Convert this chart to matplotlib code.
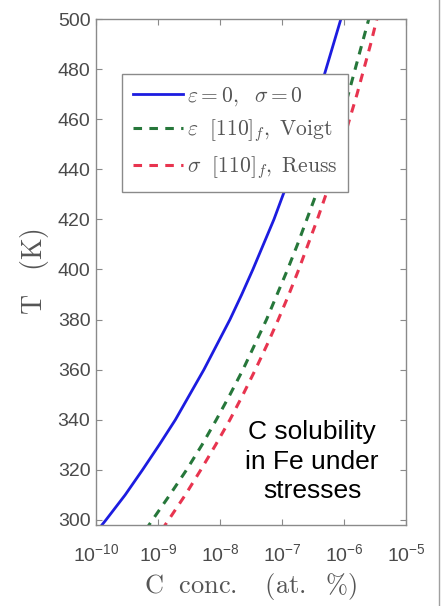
import matplotlib
matplotlib.use("Agg")
import matplotlib.pyplot as plt
from matplotlib.lines import Line2D
from matplotlib.ticker import LogLocator, LogFormatterMathtext, FixedLocator
import numpy as np

# Data (T in K, log10 of C concentration in at.%)
temperature = [296, 300, 310, 320, 330, 340, 350, 360, 370, 380, 390,
               400, 410, 420, 430, 440, 450, 460, 470, 480, 490, 500]
log_c_unstressed = [-9.97, -9.84, -9.53, -9.25, -8.98, -8.72, -8.49, -8.26, -8.05, -7.84, -7.65,
                    -7.47, -7.30, -7.13, -6.98, -6.82, -6.68, -6.54, -6.41, -6.29, -6.17, -6.05]
log_c_voigt = [-9.20, -9.09, -8.81, -8.54, -8.29, -8.06, -7.84, -7.63, -7.44, -7.25, -7.08,
               -6.91, -6.75, -6.60, -6.45, -6.31, -6.18, -6.05, -5.93, -5.82, -5.71, -5.60]
log_c_reuss = [-8.94, -8.83, -8.56, -8.31, -8.07, -7.84, -7.63, -7.43, -7.24, -7.06, -6.89,
               -6.73, -6.58, -6.43, -6.29, -6.16, -6.03, -5.91, -5.79, -5.68, -5.57, -5.47]

labels = [r"$\varepsilon = 0,\ \ \sigma = 0$",
          r"$\varepsilon\ \ [110]_f,\ \mathrm{Voigt}$",
          r"$\sigma\ \ [110]_f,\ \mathrm{Reuss}$"]
y_ticks = [300, 320, 340, 360, 380, 400, 420, 440, 460, 480, 500]
x_ticks = [1e-10, 1e-9, 1e-8, 1e-7, 1e-6, 1e-5]

plt.rcParams['mathtext.fontset'] = 'dejavusans'
fig = plt.figure(figsize=(4.44, 6.06), dpi=100)
W, H = 444, 606
ax = fig.add_axes([96 / W, 1 - 525 / H, (406 - 96) / W, (525 - 19) / H])

T = np.array(temperature)
ax.plot(10 ** np.array(log_c_unstressed), T, color='#1c1ce0', lw=2.0, label=labels[0])
ax.plot(10 ** np.array(log_c_voigt), T, color='#26773a', lw=2.2, dashes=(2.8, 2.4), label=labels[1])
ax.plot(10 ** np.array(log_c_reuss), T, color='#e8344f', lw=2.2, dashes=(2.8, 2.4), label=labels[2])

ax.set_xscale('log')
ax.set_xlim(1e-10, 1e-5)
ax.set_ylim(298, 500)
ax.xaxis.set_major_locator(FixedLocator(x_ticks))
ax.xaxis.set_major_formatter(LogFormatterMathtext())
ax.xaxis.set_minor_locator(LogLocator(base=10, subs=np.arange(2, 10)))
ax.set_yticks(y_ticks)

for s in ax.spines.values():
    s.set_color('#8a8a8a')
    s.set_linewidth(1.0)
ax.tick_params(which='both', direction='in', top=True, right=True, color='#8a8a8a')
ax.tick_params(which='major', length=4, labelsize=14, labelcolor='#4a4a4a')
ax.tick_params(which='minor', length=2)
ax.tick_params(axis='x', pad=13)
ax.tick_params(axis='y', pad=4)
for lab in ax.get_xticklabels() + ax.get_yticklabels():
    lab.set_fontfamily('Liberation Sans')

ax.set_xlabel(r"$\mathrm{C\ \ conc.\ \ \ (at.\ \ \%)}$", fontsize=19, color='#555555',
              math_fontfamily='cm', labelpad=4)
ax.set_ylabel(r"$\mathrm{T\ \ \ (K)}$", fontsize=20, color='#555555',
              math_fontfamily='cm', labelpad=5)

leg = ax.legend(loc='upper left', bbox_to_anchor=(0.084, 0.891), borderaxespad=0,
                fontsize=15.5, handlelength=2.33, handletextpad=0.2, labelspacing=0.45,
                borderpad=0.5, fancybox=False, framealpha=1, edgecolor='#8a8a8a')
leg.get_frame().set_linewidth(1.0)
for t in leg.get_texts():
    t.set_math_fontfamily('cm')
    t.set_color('#555555')

ax.text(0.697, 0.125, "C solubility\nin Fe under\nstresses", transform=ax.transAxes,
        ha='center', va='center', fontsize=19, family='Liberation Sans',
        linespacing=1.3, color='black')

fig.add_artist(Line2D([439 / W, 439 / W], [0, 1], transform=fig.transFigure,
                      color='#a0a0a0', lw=1.0))

fig.savefig('out.png', dpi=100, facecolor='white')
